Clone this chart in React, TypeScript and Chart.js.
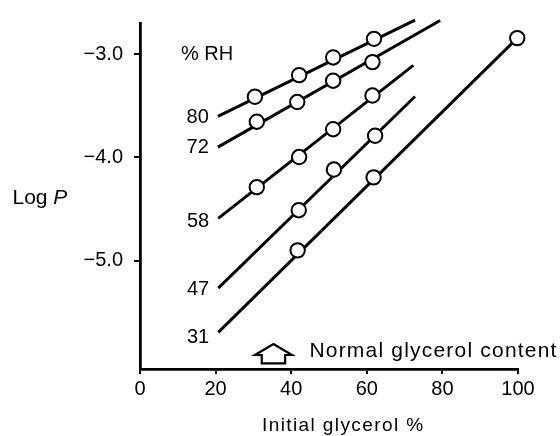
import React, { useEffect, useRef } from 'react';
import { Chart, registerables } from 'chart.js';

Chart.register(...registerables);

// ---- data ----
const rhLabels = ['80', '72', '58', '47', '31'];
const xTicks = [0, 20, 40, 60, 80, 100];
const yTicks = [-5, -4, -3];

const rh80FitX = [20.6, 72.75];
const rh80FitY = [-3.603, -2.672];
const rh80X = [30.4, 42.1, 51.1, 61.9];
const rh80Y = [-3.413, -3.204, -3.033, -2.853];

const rh72FitX = [20.6, 79.4];
const rh72FitY = [-3.9, -2.675];
const rh72X = [30.9, 41.6, 51.1, 61.5];
const rh72Y = [-3.654, -3.464, -3.258, -3.078];

const rh58FitX = [20.7, 72.3];
const rh58FitY = [-4.589, -3.109];
const rh58X = [30.9, 42.1, 51.1, 61.5];
const rh58Y = [-4.287, -3.996, -3.727, -3.401];

const rh47FitX = [20.7, 72.75];
const rh47FitY = [-5.263, -3.41];
const rh47X = [42.0, 51.3, 62.2];
const rh47Y = [-4.51, -4.117, -3.79];

const rh31FitX = [20.7, 99.8];
const rh31FitY = [-5.691, -2.846];
const rh31X = [41.7, 61.8, 99.8];
const rh31Y = [-4.898, -4.192, -2.846];

const normalGlycerol = 35.3;

const fitsX = [rh80FitX, rh72FitX, rh58FitX, rh47FitX, rh31FitX];
const fitsY = [rh80FitY, rh72FitY, rh58FitY, rh47FitY, rh31FitY];
const ptsX = [rh80X, rh72X, rh58X, rh47X, rh31X];
const ptsY = [rh80Y, rh72Y, rh58Y, rh47Y, rh31Y];

const zip = (xs: number[], ys: number[]) => xs.map((x, i) => ({ x, y: ys[i] }));

const FONT = '"Liberation Sans", Arial, Helvetica, sans-serif';
const labelDy = [1, 0, 3, 1, 5];

const annotPlugin = {
  id: 'annot',
  afterDatasetsDraw(chart: any) {
    const ctx = chart.ctx as CanvasRenderingContext2D;
    const xs = chart.scales.x;
    const ys = chart.scales.y;
    const area = chart.chartArea;
    ctx.save();
    ctx.fillStyle = '#000';
    ctx.strokeStyle = '#000';

    // RH labels at left end of each line
    ctx.font = `20px ${FONT}`;
    ctx.textAlign = 'right';
    ctx.textBaseline = 'middle';
    rhLabels.forEach((lab, i) => {
      const px = xs.getPixelForValue(fitsX[i][0]);
      const py = ys.getPixelForValue(fitsY[i][0]);
      ctx.fillText(lab, px - 9, py + labelDy[i]);
    });

    // "% RH" title
    ctx.textAlign = 'left';
    ctx.fillText('% RH', 181, 54);

    // Log P
    ctx.textBaseline = 'alphabetic';
    ctx.font = `21px ${FONT}`;
    const lx = 12.5;
    const ly = 204;
    ctx.fillText('Log ', lx, ly);
    const w = ctx.measureText('Log ').width;
    ctx.font = `italic 21px ${FONT}`;
    ctx.fillText('P', lx + w, ly);

    // Initial glycerol %
    ctx.font = `19px ${FONT}`;
    (ctx as any).letterSpacing = '1.4px';
    ctx.fillText('Initial glycerol %', 262, 431);

    // Arrow marking normal glycerol content
    const cx = xs.getPixelForValue(normalGlycerol);
    const by = area.bottom;
    ctx.beginPath();
    ctx.moveTo(cx, by - 25);
    ctx.lineTo(cx + 18.5, by - 14);
    ctx.lineTo(cx + 11.7, by - 14);
    ctx.lineTo(cx + 11.7, by - 5.7);
    ctx.lineTo(cx - 11.7, by - 5.7);
    ctx.lineTo(cx - 11.7, by - 14);
    ctx.lineTo(cx - 18.5, by - 14);
    ctx.closePath();
    ctx.fillStyle = '#fff';
    ctx.fill();
    ctx.lineWidth = 2.2;
    ctx.lineJoin = 'miter';
    ctx.stroke();

    ctx.fillStyle = '#000';
    ctx.font = `21px ${FONT}`;
    (ctx as any).letterSpacing = '1.2px';
    ctx.fillText('Normal glycerol content', cx + 36, by - 12);
    (ctx as any).letterSpacing = '0px';

    ctx.restore();
  },
};

export default function App() {
  const ref = useRef<HTMLCanvasElement | null>(null);

  useEffect(() => {
    if (!ref.current) return;
    const datasets: any[] = [];
    rhLabels.forEach((lab, i) => {
      datasets.push({
        type: 'line',
        label: `${lab} fit`,
        data: zip(fitsX[i], fitsY[i]),
        borderColor: '#000',
        borderWidth: 2.9,
        pointRadius: 0,
        showLine: true,
        fill: false,
        clip: false,
        order: 2,
      });
      datasets.push({
        type: 'scatter',
        label: `${lab} % RH`,
        data: zip(ptsX[i], ptsY[i]),
        borderColor: '#000',
        backgroundColor: '#fff',
        borderWidth: 2,
        pointRadius: 7.2,
        clip: false,
        order: 1,
      });
    });

    const chart = new Chart(ref.current, {
      type: 'scatter',
      data: { datasets },
      options: {
        responsive: false,
        animation: false,
        events: [],
        layout: { padding: { left: 0, top: 17, right: 42, bottom: 0 } },
        plugins: { legend: { display: false }, tooltip: { enabled: false } },
        scales: {
          x: {
            type: 'linear',
            min: 0,
            max: 100,
            afterFit: (s: any) => { s.height = 67; },
            afterBuildTicks: (s: any) => { s.ticks = xTicks.map((v) => ({ value: v })); },
            ticks: {
              color: '#000',
              font: { family: FONT, size: 20 },
              padding: 3,
              callback: (v: any) => String(v),
            },
            grid: { drawOnChartArea: false, drawTicks: true, tickLength: 5, color: '#000', lineWidth: 2 },
            border: { display: true, color: '#000', width: 2.8 },
          },
          y: {
            type: 'linear',
            min: -6.045,
            max: -2.70,
            afterFit: (s: any) => { s.width = 140; },
            afterBuildTicks: (s: any) => { s.ticks = yTicks.map((v) => ({ value: v })); },
            ticks: {
              color: '#000',
              font: { family: FONT, size: 20 },
              padding: 11,
              callback: (v: any) => '\u2212' + Math.abs(Number(v)).toFixed(1),
            },
            grid: { drawOnChartArea: false, drawTicks: true, tickLength: 6, color: '#000', lineWidth: 2 },
            border: { display: true, color: '#000', width: 2.8 },
          },
        },
      },
      plugins: [annotPlugin],
    });
    return () => chart.destroy();
  }, []);

  return (
    <div style={{ position: 'absolute', left: 0, top: 0, width: 560, height: 436, background: '#fff' }}>
      <canvas ref={ref} width={560} height={436} style={{ display: 'block' }} />
    </div>
  );
}
